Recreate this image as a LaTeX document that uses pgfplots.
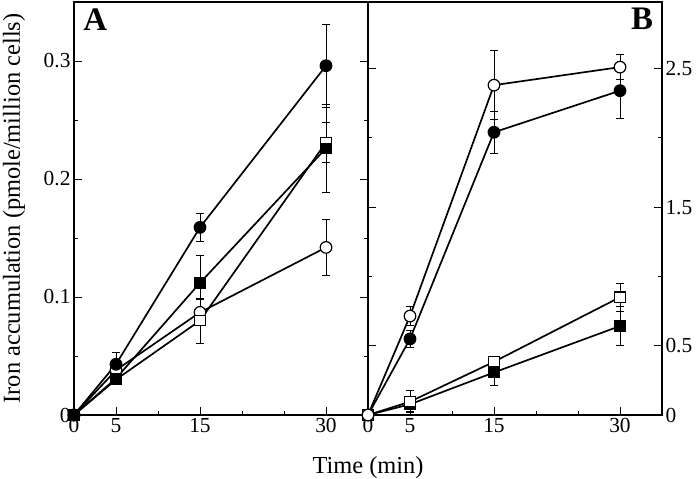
\documentclass[border=0pt]{standalone}
\usepackage{pgfplots}
\pgfplotsset{compat=1.18}
\usepackage{fontspec}
\setmainfont{Liberation Serif}
\begin{document}
\begin{tikzpicture}
\pgfplotsset{panel/.style={
 scale only axis, width=294bp, height=413bp,
 xmin=0, xmax=35,
 xtick={0,5,15,30}, minor xtick={10,20,25},
 xticklabels={0,5,15,30},
 xtick pos=left, ytick pos=both,
 tick align=inside,
 major tick length=8bp, minor tick length=4bp,
 axis line style={line width=1.5pt},
 every tick/.style={black, line width=0.9pt},
 tick label style={font=\fontsize{21.5}{24}\selectfont},
 /pgf/number format/assume math mode=true,
 every axis plot/.append style={black, line width=1.7pt},
 error bars/error bar style={line width=0.8pt, black},
 error bars/error mark options={rotate=90, mark size=4bp, line width=0.8pt, black},
}}
\pgfplotsset{
 oc/.style={black, mark=*, mark size=5.8bp, mark options={fill=white, draw=black, line width=1.2pt}},
 fc/.style={black, mark=*, mark size=5.8bp, mark options={fill=black, draw=black, line width=1.2pt}},
 os/.style={black, mark=square*, mark size=5.2bp, mark options={fill=white, draw=black, line width=1.2pt}},
 fs/.style={black, mark=square*, mark size=5.2bp, mark options={fill=black, draw=black, line width=1.2pt}},
}
\useasboundingbox (-74bp,-64bp) rectangle (625bp,415bp);
\begin{axis}[panel, name=A, at={(0,0)}, anchor=south west,
 ymin=0, ymax=0.35, ytick={0,0.1,0.2,0.3}, yticklabels={0,0.1,0.2,0.3},
 minor ytick={0.05,0.15,0.25},
 ylabel={Iron accumulation (pmole/million cells)},
 ylabel style={at={(rel axis cs:-0.204,0.5)}, anchor=center, font=\fontsize{24.5}{28}\selectfont}]
\addplot[oc, error bars/.cd, y dir=both, y explicit]
 coordinates {(0,0) +- (0,0) (5,0.038) +- (0,0.004) (15,0.087) +- (0,0.011) (30,0.142) +- (0,0.024)};
\addplot[os, error bars/.cd, y dir=both, y explicit]
 coordinates {(0,0) +- (0,0) (5,0.030) +- (0,0.004) (15,0.080) +- (0,0.019) (30,0.231) +- (0,0.017)};
\addplot[fs, error bars/.cd, y dir=both, y explicit]
 coordinates {(0,0) +- (0,0) (5,0.031) +- (0,0.005) (15,0.112) +- (0,0.023) (30,0.226) +- (0,0.037)};
\addplot[fc, error bars/.cd, y dir=both, y explicit]
 coordinates {(0,0) +- (0,0) (5,0.043) +- (0,0.010) (15,0.159) +- (0,0.012) (30,0.296) +- (0,0.035)};
\node[anchor=north west, inner sep=0pt, font=\bfseries\fontsize{33}{36}\selectfont] at (rel axis cs:0.031,0.985) {A};
\end{axis}
\begin{axis}[panel, name=B, at={(A.south east)}, anchor=south west,
 ymin=0, ymax=2.98, ytick={0,0.5,1.5,2.5}, yticklabels={0,0.5,1.5,2.5},
 minor ytick={1,2}, yticklabel pos=right]
\addplot[fs, error bars/.cd, y dir=both, y explicit]
 coordinates {(0,0) +- (0,0) (5,0.077) +- (0,0.05) (15,0.307) +- (0,0.09) (30,0.642) +- (0,0.14)};
\addplot[os, error bars/.cd, y dir=both, y explicit]
 coordinates {(0,0) +- (0,0) (5,0.096) +- (0,0.08) (15,0.384) +- (0,0.03) (30,0.85) +- (0,0.1)};
\addplot[fc, error bars/.cd, y dir=both, y explicit]
 coordinates {(0,0) +- (0,0) (5,0.549) +- (0,0.06) (15,2.04) +- (0,0.15) (30,2.34) +- (0,0.2)};
\addplot[oc, error bars/.cd, y dir=both, y explicit]
 coordinates {(0,0) +- (0,0) (5,0.714) +- (0,0.07) (15,2.38) +- (0,0.25) (30,2.51) +- (0,0.09)};
\node[anchor=north east, inner sep=0pt, font=\bfseries\fontsize{33}{36}\selectfont] at (rel axis cs:0.97,0.985) {B};
\end{axis}
\node[anchor=base, inner sep=0pt, font=\fontsize{24.5}{28}\selectfont] at (294bp,-58bp) {Time (min)};
\end{tikzpicture}
\end{document}
